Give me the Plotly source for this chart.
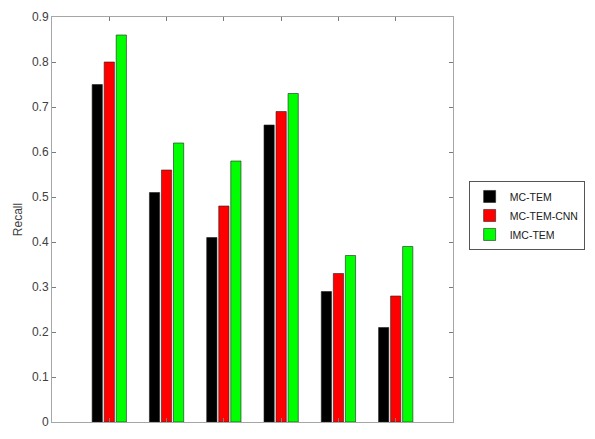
import plotly.graph_objects as go

groups = [1, 2, 3, 4, 5, 6]
mc_tem = [0.75, 0.51, 0.41, 0.66, 0.29, 0.21]
mc_tem_cnn = [0.80, 0.56, 0.48, 0.69, 0.33, 0.28]
imc_tem = [0.86, 0.62, 0.58, 0.73, 0.37, 0.39]
series_names = ["MC-TEM", "MC-TEM-CNN", "IMC-TEM"]
colors = ["#000000", "#ff0000", "#00ff00"]
y_ticks = [0, 0.1, 0.2, 0.3, 0.4, 0.5, 0.6, 0.7, 0.8, 0.9]

fig = go.Figure()
for name, vals, c in zip(series_names, [mc_tem, mc_tem_cnn, imc_tem], colors):
    fig.add_trace(go.Bar(x=groups, y=vals, name=name,
                         marker=dict(color=c, line=dict(color="#222222", width=0.6))))

axis_common = dict(showline=True, linecolor="#a6a6a6", linewidth=1, mirror="ticks",
                   ticks="inside", ticklen=4, tickcolor="#7a7a7a", showgrid=False,
                   zeroline=False)

# page has 8px default body margin; figure sized so page is exactly 595x439
fig.update_layout(
    width=579, height=423,
    margin=dict(l=44, r=125, t=4, b=2),
    paper_bgcolor="white", plot_bgcolor="white",
    barmode="group", bargap=0.37, bargroupgap=0.15,
    font=dict(family="Liberation Sans, Arial, sans-serif", size=12, color="#404040"),
    xaxis=dict(range=[0, 7], tickvals=groups, showticklabels=False, **axis_common),
    yaxis=dict(range=[0, 0.9], tickvals=y_ticks, ticktext=[f"{v:g}" for v in y_ticks],
               ticklabeloverflow="allow",
               title=dict(text="Recall", font=dict(size=12, color="#404040"), standoff=6),
               **axis_common),
    legend=dict(x=1.039, y=0.51, xanchor="left", yanchor="middle",
                bordercolor="#555555", borderwidth=1, bgcolor="white",
                font=dict(size=10.5, color="#202020"), tracegroupgap=0,
                itemwidth=30),
    showlegend=True,
)

fig.write_html("out.html", config={"displayModeBar": False})
